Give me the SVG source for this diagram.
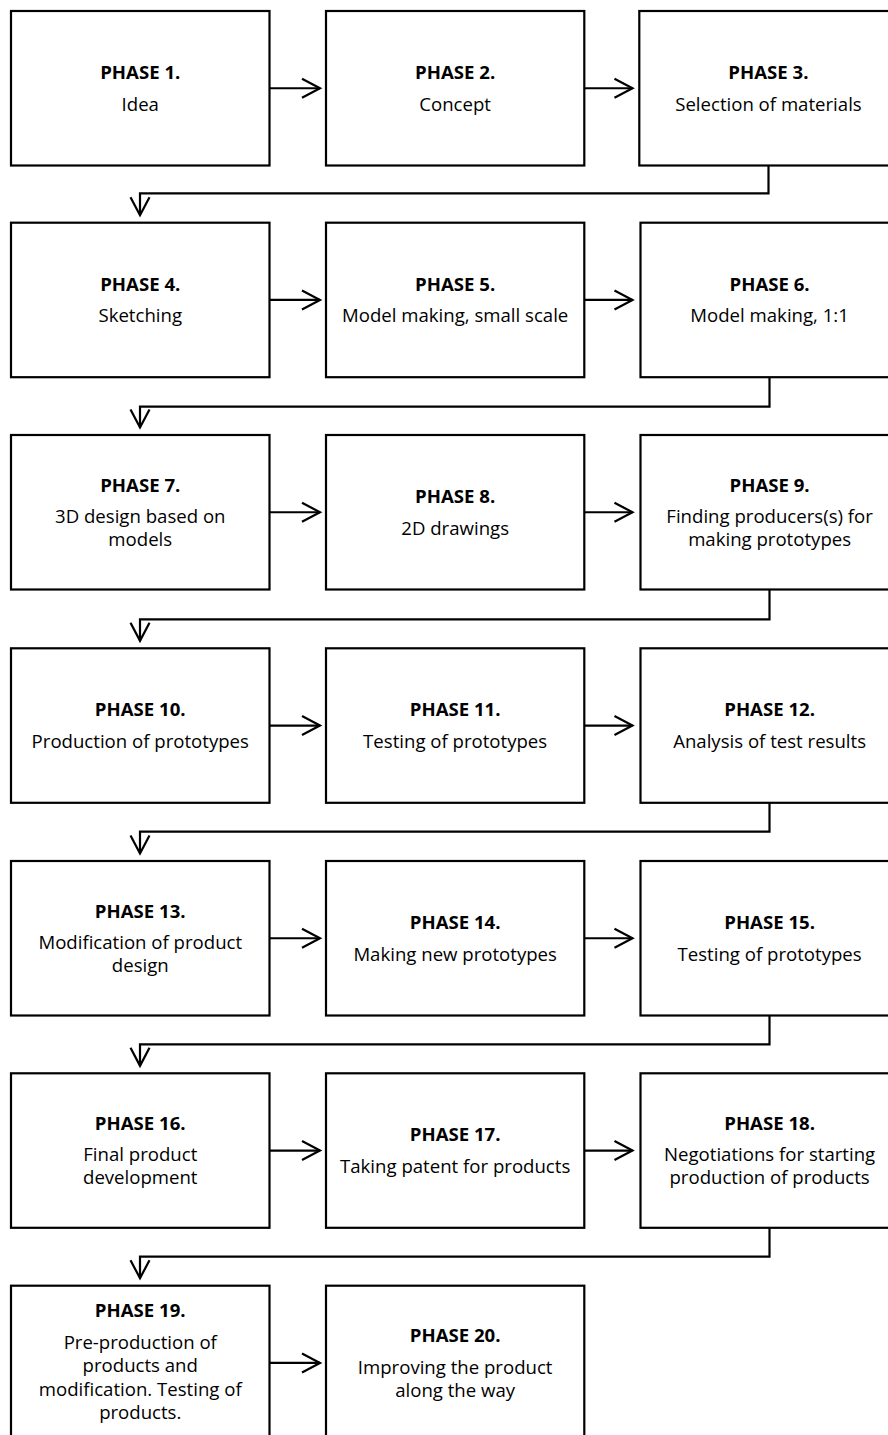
<svg xmlns="http://www.w3.org/2000/svg" width="888" height="1435" viewBox="0 0 888 1435">
<style>
.box{fill:#fff;stroke:#000;stroke-width:2.2}
.t{font-family:"Open Sans","Liberation Sans",sans-serif;font-size:18.6px;fill:#000;text-anchor:middle}
.h{font-weight:bold}
.c{fill:none;stroke:#000;stroke-width:2.2;marker-end:url(#arr)}
</style>
<defs>
<marker id="arr" markerUnits="userSpaceOnUse" markerWidth="26" markerHeight="26" viewBox="-22 -13 26 26" refX="0" refY="0" orient="auto"><path d="M-18,-9.5 L0,0 L-18,9.5" fill="none" stroke="#000" stroke-width="2.2"/></marker>
</defs>
<rect width="888" height="1435" fill="#fff"/>
<g id="connectors">
<path class="c" d="M269.5,88.25 H320"/>
<path class="c" d="M584.3,88.25 H632.5"/>
<path class="c" d="M768.5,165.5 V193.3 H140 V215.2"/>
<path class="c" d="M269.5,299.95 H320"/>
<path class="c" d="M584.3,299.95 H632.5"/>
<path class="c" d="M769.5,377.2 V406.7 H140 V427.5"/>
<path class="c" d="M269.5,512.25 H320"/>
<path class="c" d="M584.3,512.25 H632.5"/>
<path class="c" d="M769.5,589.5 V619.3 H140 V640.8"/>
<path class="c" d="M269.5,725.55 H320"/>
<path class="c" d="M584.3,725.55 H632.5"/>
<path class="c" d="M769.5,802.8 V831.7 H140 V853.5"/>
<path class="c" d="M269.5,938.25 H320"/>
<path class="c" d="M584.3,938.25 H632.5"/>
<path class="c" d="M769.5,1015.5 V1044.3 H140 V1065.8"/>
<path class="c" d="M269.5,1150.55 H320"/>
<path class="c" d="M584.3,1150.55 H632.5"/>
<path class="c" d="M769.5,1227.8 V1256.7 H140 V1278.2"/>
<path class="c" d="M269.5,1362.95 H320"/>
</g>
<g id="phase1"><rect class="box" x="11" y="11" width="258.5" height="154.5"/><text class="t"><tspan class="h" x="140.25" y="79">PHASE 1.</tspan><tspan x="140.25" y="110.5">Idea</tspan></text></g>
<g id="phase2"><rect class="box" x="326" y="11" width="258.3" height="154.5"/><text class="t"><tspan class="h" x="455.15" y="79">PHASE 2.</tspan><tspan x="455.15" y="110.5">Concept</tspan></text></g>
<g id="phase3"><rect class="box" x="639.3" y="11" width="258.3" height="154.5"/><text class="t"><tspan class="h" x="768.45" y="79">PHASE 3.</tspan><tspan x="768.45" y="110.5">Selection of materials</tspan></text></g>

<g id="phase4"><rect class="box" x="11" y="222.7" width="258.5" height="154.5"/><text class="t"><tspan class="h" x="140.25" y="290.7">PHASE 4.</tspan><tspan x="140.25" y="322.2">Sketching</tspan></text></g>
<g id="phase5"><rect class="box" x="326" y="222.7" width="258.3" height="154.5"/><text class="t"><tspan class="h" x="455.15" y="290.7">PHASE 5.</tspan><tspan x="455.15" y="322.2">Model making, small scale</tspan></text></g>
<g id="phase6"><rect class="box" x="640.5" y="222.7" width="258.3" height="154.5"/><text class="t"><tspan class="h" x="769.6" y="290.7">PHASE 6.</tspan><tspan x="769.6" y="322.2">Model making, 1:1</tspan></text></g>

<g id="phase7"><rect class="box" x="11" y="435" width="258.5" height="154.5"/><text class="t"><tspan class="h" x="140.25" y="491.5">PHASE 7.</tspan><tspan x="140.25" y="523">3D design based on</tspan><tspan x="140.25" y="546">models</tspan></text></g>
<g id="phase8"><rect class="box" x="326" y="435" width="258.3" height="154.5"/><text class="t"><tspan class="h" x="455.15" y="503">PHASE 8.</tspan><tspan x="455.15" y="534.5">2D drawings</tspan></text></g>
<g id="phase9"><rect class="box" x="640.5" y="435" width="258.3" height="154.5"/><text class="t"><tspan class="h" x="769.6" y="491.5">PHASE 9.</tspan><tspan x="769.6" y="523">Finding producers(s) for</tspan><tspan x="769.6" y="546">making prototypes</tspan></text></g>

<g id="phase10"><rect class="box" x="11" y="648.3" width="258.5" height="154.5"/><text class="t"><tspan class="h" x="140.25" y="716.3">PHASE 10.</tspan><tspan x="140.25" y="747.8">Production of prototypes</tspan></text></g>
<g id="phase11"><rect class="box" x="326" y="648.3" width="258.3" height="154.5"/><text class="t"><tspan class="h" x="455.15" y="716.3">PHASE 11.</tspan><tspan x="455.15" y="747.8">Testing of prototypes</tspan></text></g>
<g id="phase12"><rect class="box" x="640.5" y="648.3" width="258.3" height="154.5"/><text class="t"><tspan class="h" x="769.6" y="716.3">PHASE 12.</tspan><tspan x="769.6" y="747.8">Analysis of test results</tspan></text></g>

<g id="phase13"><rect class="box" x="11" y="861" width="258.5" height="154.5"/><text class="t"><tspan class="h" x="140.25" y="917.5">PHASE 13.</tspan><tspan x="140.25" y="949">Modification of product</tspan><tspan x="140.25" y="972">design</tspan></text></g>
<g id="phase14"><rect class="box" x="326" y="861" width="258.3" height="154.5"/><text class="t"><tspan class="h" x="455.15" y="929">PHASE 14.</tspan><tspan x="455.15" y="960.5">Making new prototypes</tspan></text></g>
<g id="phase15"><rect class="box" x="640.5" y="861" width="258.3" height="154.5"/><text class="t"><tspan class="h" x="769.6" y="929">PHASE 15.</tspan><tspan x="769.6" y="960.5">Testing of prototypes</tspan></text></g>

<g id="phase16"><rect class="box" x="11" y="1073.3" width="258.5" height="154.5"/><text class="t"><tspan class="h" x="140.25" y="1129.8">PHASE 16.</tspan><tspan x="140.25" y="1161.3">Final product</tspan><tspan x="140.25" y="1184.3">development</tspan></text></g>
<g id="phase17"><rect class="box" x="326" y="1073.3" width="258.3" height="154.5"/><text class="t"><tspan class="h" x="455.15" y="1141.3">PHASE 17.</tspan><tspan x="455.15" y="1172.8">Taking patent for products</tspan></text></g>
<g id="phase18"><rect class="box" x="640.5" y="1073.3" width="258.3" height="154.5"/><text class="t"><tspan class="h" x="769.6" y="1129.8">PHASE 18.</tspan><tspan x="769.6" y="1161.3">Negotiations for starting</tspan><tspan x="769.6" y="1184.3">production of products</tspan></text></g>

<g id="phase19"><rect class="box" x="11" y="1285.7" width="258.5" height="154.5"/><text class="t"><tspan class="h" x="140.25" y="1317">PHASE 19.</tspan><tspan x="140.25" y="1348.5">Pre-production of</tspan><tspan x="140.25" y="1372">products and</tspan><tspan x="140.25" y="1395.5">modification. Testing of</tspan><tspan x="140.25" y="1419">products.</tspan></text></g>
<g id="phase20"><rect class="box" x="326" y="1285.7" width="258.3" height="154.5"/><text class="t"><tspan class="h" x="455.15" y="1342">PHASE 20.</tspan><tspan x="455.15" y="1373.5">Improving the product</tspan><tspan x="455.15" y="1396.5">along the way</tspan></text></g>
</svg>
